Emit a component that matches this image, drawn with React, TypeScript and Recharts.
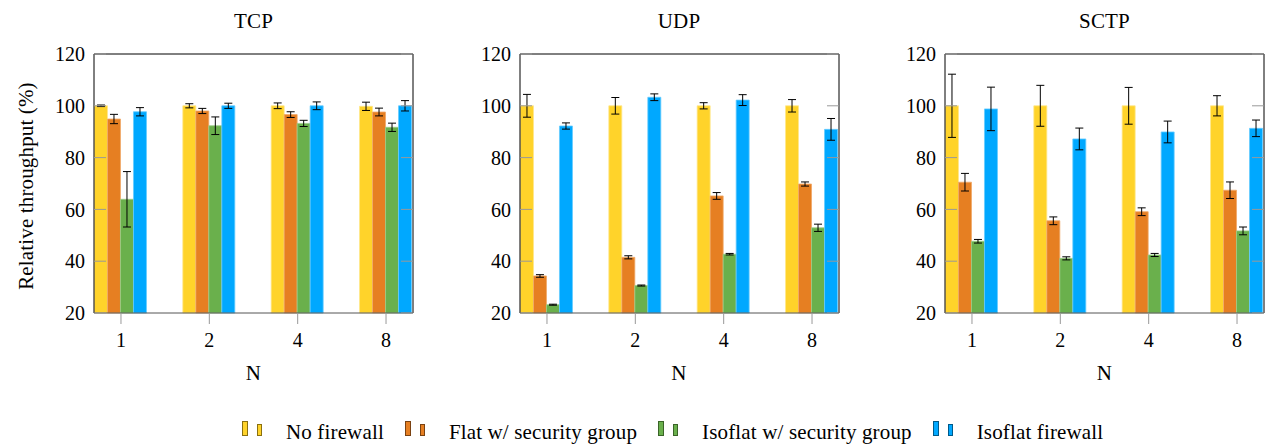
import React from 'react';
import { BarChart, Bar, XAxis, YAxis, ErrorBar } from 'recharts';

const N_LABELS = ['1', '2', '4', '8'];
const Y_TICKS = [20, 40, 60, 80, 100, 120];

const SERIES_NAMES = ['No firewall', 'Flat w/ security group', 'Isoflat w/ security group', 'Isoflat firewall'];
const SERIES_COLORS = ['#ffd32a', '#e67f22', '#6ab04c', '#00a8ff'];
const SERIES_EDGES = ['#ffe78a', '#f0a868', '#9ccb88', '#66ccff'];
const LEGEND_BORDERS = ['#8a7010', '#7a4212', '#3a6428', '#005a8a'];

// TCP
const TCP_NOFW = [100, 100, 100, 99.8];
const TCP_NOFW_ERR = [0.3, 0.8, 1.1, 1.6];
const TCP_FLAT = [94.9, 98, 96.6, 97.6];
const TCP_FLAT_ERR = [1.8, 1, 1.1, 1.5];
const TCP_ISOSG = [63.9, 92.3, 93.2, 91.7];
const TCP_ISOSG_ERR = [10.7, 3.4, 1.2, 1.6];
const TCP_ISOFW = [97.7, 100, 100, 100];
const TCP_ISOFW_ERR = [1.6, 1, 1.5, 2];

// UDP
const UDP_NOFW = [100, 100, 100, 100];
const UDP_NOFW_ERR = [4.4, 3.2, 1.2, 2.4];
const UDP_FLAT = [34.3, 41.5, 65.2, 69.8];
const UDP_FLAT_ERR = [0.5, 0.6, 1.3, 0.8];
const UDP_ISOSG = [23.2, 30.6, 42.7, 52.9];
const UDP_ISOSG_ERR = [0.2, 0.2, 0.3, 1.4];
const UDP_ISOFW = [92.2, 103.3, 102.2, 90.9];
const UDP_ISOFW_ERR = [1.2, 1.3, 2.1, 4.2];

// SCTP
const SCTP_NOFW = [100, 100, 100, 100];
const SCTP_NOFW_ERR = [12.2, 7.9, 7.1, 3.9];
const SCTP_FLAT = [70.5, 55.6, 59.1, 67.4];
const SCTP_FLAT_ERR = [3.4, 1.5, 1.5, 3.2];
const SCTP_ISOSG = [47.7, 41.1, 42.4, 51.7];
const SCTP_ISOSG_ERR = [0.7, 0.6, 0.6, 1.5];
const SCTP_ISOFW = [98.8, 87.2, 89.9, 91.3];
const SCTP_ISOFW_ERR = [8.4, 4.2, 4.2, 3.2];

const FONT = '"Liberation Serif", "Times New Roman", serif';
const TEXT_STYLE = { fontSize: 21, lineHeight: '20px', fontFamily: FONT, letterSpacing: 0.15 };
const AXIS_W = 70; // left y-axis width, plot starts here
const PLOT_W = 319;
const PLOT_TOP = 54;
const PLOT_BOTTOM = 313;
const RIGHT_PAD = 10;
const CHART_H = 353;
const X_PAD = -17.2; // bands run a bit past the frame, like pgfplots

const YTick = (props: any) => {
  const { x, y, payload } = props;
  return (
    <g>
      <line x1={AXIS_W} x2={AXIS_W + 12} y1={y} y2={y} stroke="#999" />
      <line x1={AXIS_W + PLOT_W - 12} x2={AXIS_W + PLOT_W} y1={y} y2={y} stroke="#999" />
      <text x={x} y={y} dy="0.355em" textAnchor="end" fontSize={20} fontFamily={FONT} fill="#000">
        {payload.value}
      </text>
    </g>
  );
};

interface PanelProps {
  title: string;
  frameLeft: number;
  values: number[][];
  errors: number[][];
}

function Panel({ title, frameLeft, values, errors }: PanelProps) {
  const rows = N_LABELS.map((n, i) => ({
    n,
    s0: values[0][i], e0: errors[0][i],
    s1: values[1][i], e1: errors[1][i],
    s2: values[2][i], e2: errors[2][i],
    s3: values[3][i], e3: errors[3][i],
  }));
  return (
    <>
      <div style={{ position: 'absolute', left: frameLeft, top: 11.2, width: PLOT_W, textAlign: 'center', ...TEXT_STYLE }}>
        {title}
      </div>
      <div style={{ position: 'absolute', left: frameLeft, top: 362.9, width: PLOT_W, textAlign: 'center', ...TEXT_STYLE }}>
        N
      </div>
      <div style={{ position: 'absolute', left: frameLeft - AXIS_W, top: 0 }}>
        <BarChart
          width={AXIS_W + PLOT_W + RIGHT_PAD}
          height={CHART_H}
          data={rows}
          margin={{ top: 40, right: RIGHT_PAD - 1, bottom: 0, left: 0 }}
          barCategoryGap="20%"
          barGap={0}
        >
          <XAxis
            dataKey="n"
            height={CHART_H - PLOT_BOTTOM}
            interval={0}
            padding={{ left: X_PAD, right: X_PAD }}
            tickSize={11}
            tickMargin={9}
            tickLine={{ stroke: '#999' }}
            axisLine={{ stroke: '#555' }}
            tick={{ fontSize: 20, fontFamily: FONT, fill: '#000' }}
          />
          <XAxis
            xAxisId="top"
            orientation="top"
            dataKey="n"
            height={PLOT_TOP - 40}
            interval={0}
            padding={{ left: X_PAD, right: X_PAD }}
            tickSize={11}
            tick={false}
            tickLine={{ stroke: '#999' }}
            axisLine={{ stroke: '#000' }}
          />
          <YAxis
            width={AXIS_W}
            domain={[20, 120]}
            ticks={Y_TICKS}
            interval={0}
            tickSize={0}
            tickMargin={9}
            tickLine={false}
            axisLine={{ stroke: '#000' }}
            tick={<YTick />}
          />
          <YAxis
            yAxisId="r"
            orientation="right"
            width={1}
            domain={[20, 120]}
            ticks={Y_TICKS}
            tick={false}
            tickLine={false}
            axisLine={{ stroke: '#000' }}
          />
          {SERIES_COLORS.map((c, i) => (
            <Bar
              key={i}
              dataKey={`s${i}`}
              name={SERIES_NAMES[i]}
              fill={c}
              stroke={SERIES_EDGES[i]}
              strokeWidth={0.8}
              isAnimationActive={false}
            >
              <ErrorBar dataKey={`e${i}`} width={4} stroke="#000" strokeWidth={1} direction="y" />
            </Bar>
          ))}
        </BarChart>
      </div>
    </>
  );
}

function Legend() {
  return (
    <div style={{
      position: 'absolute', left: 242, top: 420, display: 'flex', alignItems: 'flex-start',
      whiteSpace: 'nowrap', ...TEXT_STYLE,
    }}>
      {SERIES_NAMES.map((name, i) => (
        <div key={name} style={{ display: 'flex', alignItems: 'flex-start', marginRight: 21 }}>
          <div style={{ position: 'relative', width: 20, height: 16 }}>
            <div style={{
              position: 'absolute', left: 0, top: 0.7, width: 4, height: 13,
              background: SERIES_COLORS[i], border: `1px solid ${LEGEND_BORDERS[i]}`,
            }} />
            <div style={{
              position: 'absolute', left: 15, top: 4, width: 3, height: 10,
              background: SERIES_COLORS[i], border: `1px solid ${LEGEND_BORDERS[i]}`,
            }} />
          </div>
          <div style={{ marginLeft: 24, marginTop: 1.9 }}>{name}</div>
        </div>
      ))}
    </div>
  );
}

export default function App() {
  return (
    <div style={{
      position: 'absolute', left: 0, top: 0, width: 1269, height: 445,
      background: '#fff', overflow: 'hidden',
    }}>
      <div style={{
        position: 'absolute', left: 26 - 150, top: 185.5 - 10, width: 300, textAlign: 'center',
        transform: 'rotate(-90deg)', ...TEXT_STYLE,
      }}>Relative throughput (%)</div>
      <Panel
        title="TCP"
        frameLeft={94}
        values={[TCP_NOFW, TCP_FLAT, TCP_ISOSG, TCP_ISOFW]}
        errors={[TCP_NOFW_ERR, TCP_FLAT_ERR, TCP_ISOSG_ERR, TCP_ISOFW_ERR]}
      />
      <Panel
        title="UDP"
        frameLeft={519.5}
        values={[UDP_NOFW, UDP_FLAT, UDP_ISOSG, UDP_ISOFW]}
        errors={[UDP_NOFW_ERR, UDP_FLAT_ERR, UDP_ISOSG_ERR, UDP_ISOFW_ERR]}
      />
      <Panel
        title="SCTP"
        frameLeft={945}
        values={[SCTP_NOFW, SCTP_FLAT, SCTP_ISOSG, SCTP_ISOFW]}
        errors={[SCTP_NOFW_ERR, SCTP_FLAT_ERR, SCTP_ISOSG_ERR, SCTP_ISOFW_ERR]}
      />
      <Legend />
    </div>
  );
}
